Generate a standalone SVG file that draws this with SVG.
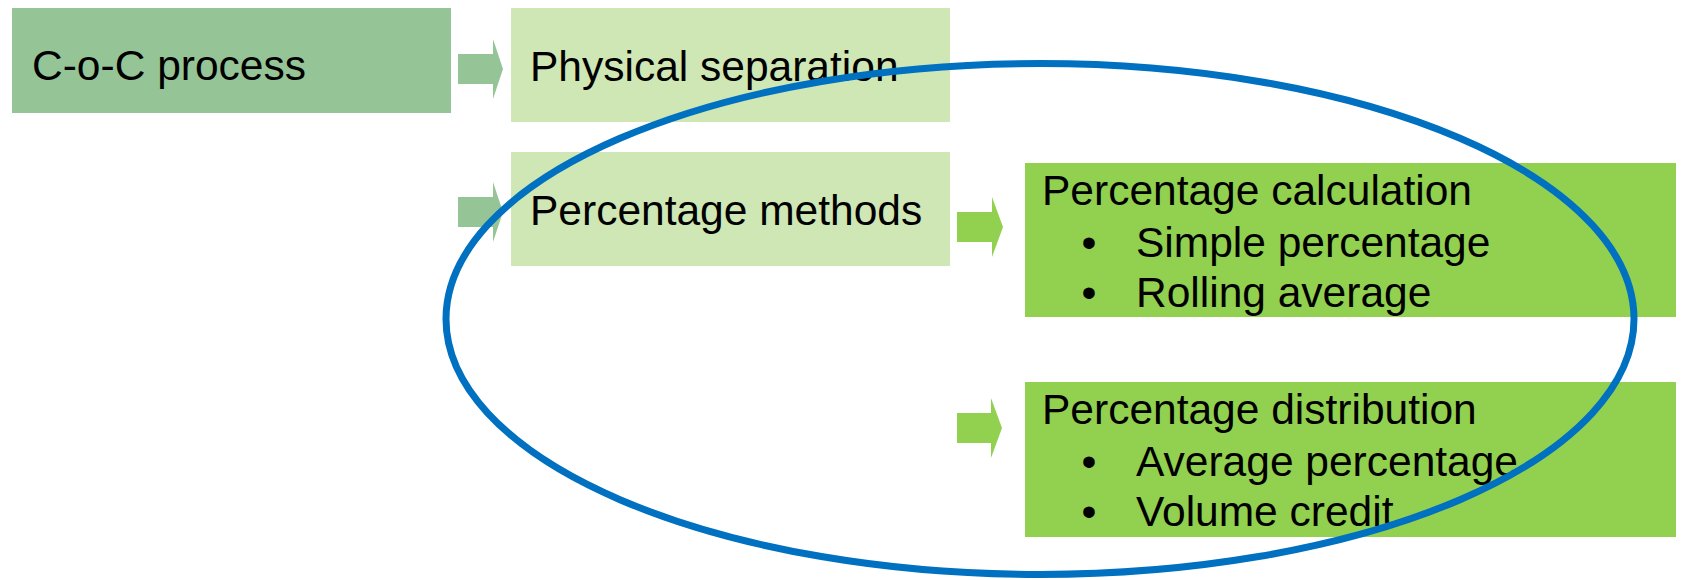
<svg xmlns="http://www.w3.org/2000/svg" width="1681" height="580" viewBox="0 0 1681 580">
<style>
.t{font-family:"Liberation Sans",Arial,sans-serif;font-size:42.5px;fill:#000}
.dark{fill:#95C597}
.light{fill:#CEE7B5}
.green{fill:#92D050}
</style>
<rect width="1681" height="580" fill="#fff"/>
<g id="node-coc">
<rect class="dark" x="12" y="8" width="439" height="105"/>
<text class="t" x="32" y="80">C-o-C process</text>
</g>
<g id="node-physical">
<rect class="light" x="511" y="8" width="439" height="114"/>
<text class="t" x="530" y="81">Physical separation</text>
</g>
<g id="node-methods">
<rect class="light" x="511" y="152" width="439" height="114"/>
<text class="t" x="530" y="225">Percentage methods</text>
</g>
<g id="node-calc">
<rect class="green" x="1025" y="163" width="651" height="154"/>
<text class="t" x="1042" y="205">Percentage calculation</text>
<text class="t" x="1089" y="257" text-anchor="middle">•</text>
<text class="t" x="1136" y="257">Simple percentage</text>
<text class="t" x="1089" y="307" text-anchor="middle">•</text>
<text class="t" x="1136" y="307">Rolling average</text>
</g>
<g id="node-dist">
<rect class="green" x="1025" y="382" width="651" height="155"/>
<text class="t" x="1042" y="424">Percentage distribution</text>
<text class="t" x="1089" y="476" text-anchor="middle">•</text>
<text class="t" x="1136" y="476">Average percentage</text>
<text class="t" x="1089" y="526" text-anchor="middle">•</text>
<text class="t" x="1136" y="526">Volume credit</text>
</g>
<g id="connectors">
<polygon class="dark" points="458,54 493,54 493,39 503,69 493,99 493,84 458,84"/>
<polygon class="dark" points="458,197 493,197 493,182 503,212 493,242 493,227 458,227"/>
<polygon class="green" points="957,212 992,212 992,197 1003,227 992,257 992,242 957,242"/>
<polygon class="green" points="957,413 991,413 991,398 1002,428 991,458 991,443 957,443"/>
</g>
<g id="highlight">
<ellipse cx="1040" cy="319" rx="594" ry="255.5" fill="none" stroke="#0070C0" stroke-width="7"/>
</g>
</svg>
